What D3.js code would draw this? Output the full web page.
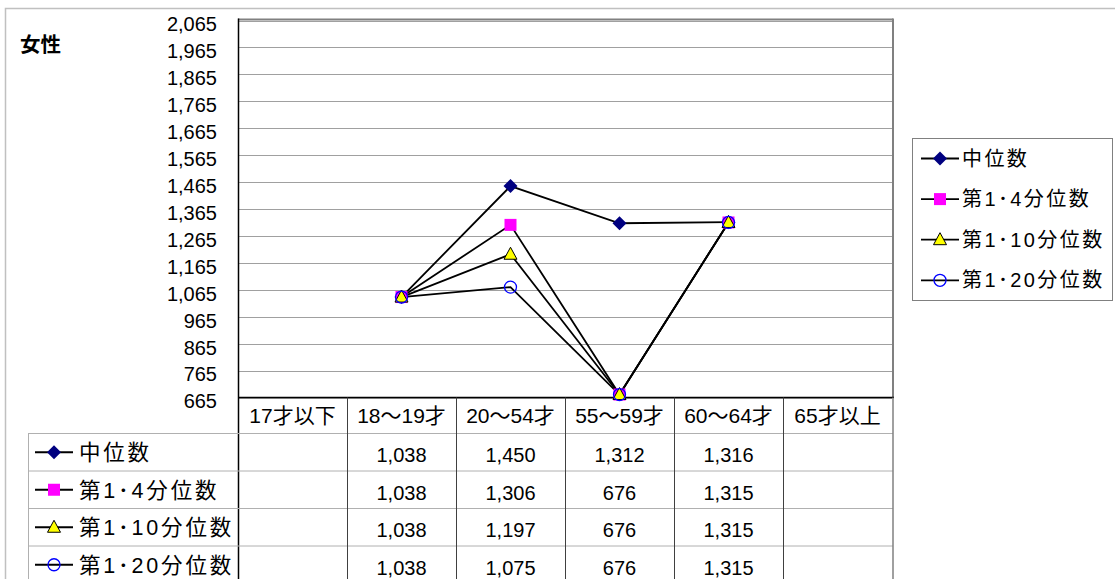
<!DOCTYPE html>
<html><head><meta charset="utf-8">
<script src="https://cdn.jsdelivr.net/npm/d3@7"></script>
<style>
html,body{margin:0;padding:0;background:#fff;}
svg text{font-family:"Liberation Sans",Arial,"Noto Sans CJK JP",sans-serif;}
</style></head><body>
<svg id="c" width="1115" height="579"></svg>
<script>
const categories = ["17才以下","18～19才","20～54才","55～59才","60～64才","65才以上"];
const seriesNames = ["中位数","第1･4分位数","第1･10分位数","第1･20分位数"];
const median = [null,1038,1450,1312,1316,null];
const q4 = [null,1038,1306,676,1315,null];
const q10 = [null,1038,1197,676,1315,null];
const q20 = [null,1038,1075,676,1315,null];
const yTicks = [665,765,865,965,1065,1165,1265,1365,1465,1565,1665,1765,1865,1965,2065];
const title = "女性";

const series = [
  {name:seriesNames[0], values:median, shape:"diamond"},
  {name:seriesNames[1], values:q4, shape:"square"},
  {name:seriesNames[2], values:q10, shape:"triangle"},
  {name:seriesNames[3], values:q20, shape:"circle"}
];

const svg = d3.select("#c");
const L = 238, R = 892, T = 20.5, B = 397.5;
const x = d3.scaleBand().domain(categories).range([L,R]);
const y = d3.scaleLinear().domain([665,2065]).range([B,T]);
const fmt = d3.format(",");

// outer frame
svg.append("path").attr("d","M5.5,579 V8.5 H1115").attr("fill","none").attr("stroke","#c0c0c0").attr("stroke-width",1.5);

// title
svg.append("text").attr("x",20).attr("y",52).attr("font-size",20.5).attr("font-weight","bold").text(title);

// gridlines
svg.append("g").selectAll("line").data(yTicks).join("line")
  .attr("x1",L).attr("x2",R).attr("y1",d=>Math.round(y(d))+0.5).attr("y2",d=>Math.round(y(d))+0.5)
  .attr("stroke","#a0a0a0").attr("stroke-width",1);

// y axis labels
const yAxis = d3.axisLeft(y).tickValues(yTicks).tickFormat(fmt).tickSize(0).tickPadding(0);
const ya = svg.append("g").attr("transform",`translate(${L-21},4)`).call(yAxis);
ya.select(".domain").remove();
ya.attr("font-size",null).attr("font-family",null);
ya.selectAll("text").attr("font-size",20).attr("fill","#000")
  .style("font-family",'"Liberation Sans",Arial,sans-serif');

// plot border
svg.append("line").attr("x1",L).attr("x2",R+1).attr("y1",T-1).attr("y2",T-1).attr("stroke","#808080").attr("stroke-width",2);
svg.append("line").attr("x1",R+1).attr("x2",R+1).attr("y1",T-2).attr("y2",B).attr("stroke","#808080").attr("stroke-width",2);
svg.append("line").attr("x1",L+0.5).attr("x2",L+0.5).attr("y1",T-2).attr("y2",579).attr("stroke","#000").attr("stroke-width",1.5);
svg.append("line").attr("x1",L).attr("x2",R+2).attr("y1",B).attr("y2",B).attr("stroke","#000").attr("stroke-width",1.5);

// lines
const cx = d => x(d) + x.bandwidth()/2;
const line = d3.line().defined(d=>d.v!=null).x(d=>cx(d.c)).y(d=>y(d.v));
series.forEach(s=>{
  svg.append("path").datum(categories.map((c,i)=>({c,v:s.values[i]})))
    .attr("d",line).attr("fill","none").attr("stroke","#000").attr("stroke-width",1.8);
});

function marker(g, shape, px, py){
  if(shape==="diamond"){
    g.append("path").attr("d",`M${px},${py-7}L${px+7},${py}L${px},${py+7}L${px-7},${py}Z`).attr("fill","#000080");
  } else if(shape==="square"){
    g.append("rect").attr("x",px-6).attr("y",py-6).attr("width",12).attr("height",12).attr("fill","#ff00ff");
  } else if(shape==="triangle"){
    g.append("path").attr("d",`M${px},${py-7}L${px+6.5},${py+5}L${px-6.5},${py+5}Z`).attr("fill","#ffff00").attr("stroke","#000").attr("stroke-width",1);
  } else {
    g.append("circle").attr("cx",px).attr("cy",py).attr("r",6).attr("fill","none").attr("stroke","#0000ff").attr("stroke-width",1.3);
  }
}
const mg = svg.append("g");
series.forEach(s=>{
  categories.forEach((c,i)=>{
    if(s.values[i]!=null) marker(mg, s.shape, cx(c), y(s.values[i]));
  });
});

// legend
const lg = svg.append("g");
lg.append("rect").attr("x",912.5).attr("y",138.5).attr("width",200).attr("height",162).attr("fill","#fff").attr("stroke","#808080").attr("stroke-width",1);
series.forEach((s,i)=>{
  const yy = 158.5 + i*40.6;
  lg.append("line").attr("x1",921).attr("x2",959).attr("y1",yy).attr("y2",yy).attr("stroke","#000").attr("stroke-width",1.8);
  marker(lg, s.shape, 940, yy);
  lg.append("text").attr("x",962).attr("y",yy+7).attr("font-size",20).attr("letter-spacing",2.4).text(s.name);
});

// table
const rowTop = [397.5,433.5,471,508.5,546];
const rowH = [36,37.5,37.5,37.5,37.5];
const tg = svg.append("g");
// header text
categories.forEach(c=>{
  tg.append("text").attr("x",cx(c)).attr("y",423).attr("text-anchor","middle").attr("font-size",21).text(c);
});
// horizontal lines
[433.5,471,508.5,546].forEach(yy=>{
  tg.append("line").attr("x1",28).attr("x2",R+1).attr("y1",yy).attr("y2",yy).attr("stroke","#b0b0b0").attr("stroke-width",1);
});
// vertical lines
categories.slice(1).forEach(c=>{
  tg.append("line").attr("x1",Math.round(x(c))+0.5).attr("x2",Math.round(x(c))+0.5).attr("y1",B).attr("y2",579).attr("stroke","#404040").attr("stroke-width",1);
});
tg.append("line").attr("x1",R+1).attr("x2",R+1).attr("y1",B).attr("y2",579).attr("stroke","#808080").attr("stroke-width",1.5);
tg.append("line").attr("x1",28.5).attr("x2",28.5).attr("y1",433.5).attr("y2",579).attr("stroke","#b0b0b0").attr("stroke-width",1);
// rows
series.forEach((s,i)=>{
  const yy = rowTop[i+1] + rowH[i+1]/2;
  tg.append("line").attr("x1",35).attr("x2",73).attr("y1",yy).attr("y2",yy).attr("stroke","#000").attr("stroke-width",1.8);
  marker(tg, s.shape, 54, yy);
  tg.append("text").attr("x",79).attr("y",yy+8).attr("font-size",21.5).attr("letter-spacing",2.8).text(s.name);
  categories.forEach((c,j)=>{
    if(s.values[j]!=null)
      tg.append("text").attr("x",cx(c)).attr("y",yy+10).attr("text-anchor","middle").attr("font-size",20).text(fmt(s.values[j]));
  });
});
</script>
</body></html>
